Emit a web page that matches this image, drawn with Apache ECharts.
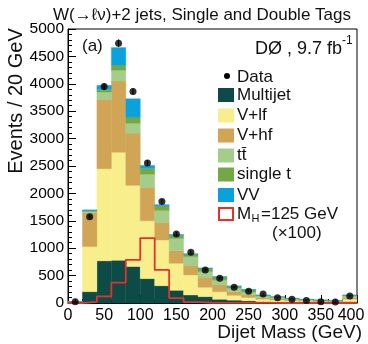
<!DOCTYPE html>
<html><head><meta charset="utf-8">
<script src="https://cdn.jsdelivr.net/npm/echarts@6/dist/echarts.min.js"></script>
<style>html,body{margin:0;padding:0;background:#fff}#c{width:368px;height:344px}</style>
</head><body><div id="c"></div>
<script>
// ---- data (Events / 20 GeV), bins 0-20, 20-40, ... 380-400 GeV ----
const binEdges = [0,20,40,60,80,100,120,140,160,180,200,220,240,260,280,300,320,340,360,380,400];
const multijet = [5,207,770,780,665,445,315,232,146,116,68,52,40,25,20,15,12,10,8,25];
const vlf      = [15,823,1682,1970,1482,1055,835,493,366,171,139,88,60,45,35,27,21,17,13,45];
const vhf      = [5,620,1268,1300,953,610,320,230,171,183,122,70,50,30,23,16,13,10,8,28];
const ttbar    = [1,22,129,198,180,240,220,223,164,103,92,60,50,28,22,17,13,11,8,29];
const singleTop= [1,10,49,95,115,110,85,57,43,57,54,35,40,14,12,8,7,5,4,14];
const diboson  = [1,18,73,318,332,50,20,15,8,10,6,6,8,4,4,3,2,2,1,5];
const dataCounts = [25,1575,3950,4740,3860,2556,1854,1260,928,604,452,287,215,165,97,68,45,25,18,130];
const higgsX100 = [0,20,120,372,787,1184,604,88,15,5,3,2,1,1,0,0,0,0,0,0];
const xTicks = [0,50,100,150,200,250,300,350,400];
const yTicks = [0,500,1000,1500,2000,2500,3000,3500,4000,4500,5000];

const FONT = "'Liberation Sans', Arial, Helvetica, sans-serif";
const comps = [
  {name:'Multijet', vals:multijet, color:'#0d4b46'},
  {name:'V+lf', vals:vlf, color:'#f8ee8c'},
  {name:'V+hf', vals:vhf, color:'#d0a556'},
  {name:'tt\u0304', vals:ttbar, color:'#a4cc8a'},
  {name:'single t', vals:singleTop, color:'#74a845'},
  {name:'VV', vals:diboson, color:'#0aa2dc'}
];
const base = new Array(20).fill(0);
const stackSeries = comps.map(c => {
  const d = c.vals.map((v,i) => {
    const item = [binEdges[i], binEdges[i+1], base[i], base[i]+v];
    base[i] += v;
    return item;
  });
  return {
    type:'custom', name:c.name, data:d, z:2,
    encode:{x:[0,1], y:[2,3]},
    renderItem:(params, api) => {
      const p0 = api.coord([api.value(0), api.value(3)]);
      const p1 = api.coord([api.value(1), api.value(2)]);
      return {type:'rect', shape:{x:p0[0], y:p0[1], width:p1[0]-p0[0], height:p1[1]-p0[1]},
        style:{fill:c.color, stroke:c.color, lineWidth:0.4}};
    }
  };
});
const centers = dataCounts.map((v,i) => [(binEdges[i]+binEdges[i+1])/2, v]);
const errData = dataCounts.map((v,i) => [(binEdges[i]+binEdges[i+1])/2, v - Math.sqrt(v), v + Math.sqrt(v)]);
const higgsStep = higgsX100.map((v,i) => [binEdges[i], v]).concat([[400, higgsX100[19]]]);

const chart = echarts.init(document.getElementById('c'), null, {renderer:'canvas'});
const axisTxt = {color:'#000', fontFamily:FONT};
chart.setOption({
  animation:false,
  grid:{left:68, top:29, width:289, height:274, show:true, borderColor:'#000', borderWidth:1, backgroundColor:'transparent'},
  xAxis:{type:'value', min:0, max:400, interval:50,
    axisLine:{lineStyle:{color:'#000', width:1}},
    axisTick:{inside:true, length:8, lineStyle:{color:'#000'}},
    minorTick:{show:true, splitNumber:5, length:4, lineStyle:{color:'#000'}},
    splitLine:{show:false},
    axisLabel:Object.assign({fontSize:16, margin:5,
      formatter:v => v===400 ? '{r|400}' : String(v),
      rich:{r:{fontSize:16, fontFamily:FONT, color:'#000', padding:[0,12,0,0]}}}, axisTxt)},
  yAxis:{type:'value', min:0, max:5000, interval:500,
    axisLine:{lineStyle:{color:'#000', width:1}},
    axisTick:{inside:true, length:8, lineStyle:{color:'#000'}},
    minorTick:{show:true, splitNumber:5, length:4, lineStyle:{color:'#000'}},
    splitLine:{show:false},
    axisLabel:Object.assign({fontSize:15.5, margin:4, formatter:v => String(v)}, axisTxt)},
  series: stackSeries.concat([
    {type:'line', name:'MH', data:higgsStep, step:'end', showSymbol:false, z:3,
      lineStyle:{color:'#e8302a', width:1.8}},
    {type:'custom', name:'err', data:errData, z:4, encode:{x:0, y:[1,2]},
      renderItem:(params, api) => {
        const a = api.coord([api.value(0), api.value(1)]);
        const b = api.coord([api.value(0), api.value(2)]);
        return {type:'line', shape:{x1:a[0], y1:a[1], x2:b[0], y2:b[1]}, style:{stroke:'#000', lineWidth:1}};
      }},
    {type:'scatter', name:'Data', data:centers, symbol:'circle', symbolSize:7, z:5,
      itemStyle:{color:'#000'}}
  ]),
  graphic:[
    {type:'text', x:202, y:15, style:{text:'W(\u2192\u2113\u03bd)+2 jets, Single and Double Tags', fontSize:17, fontFamily:FONT, fill:'#111', align:'center', verticalAlign:'middle'}},
    {type:'text', x:16, y:101, rotation:Math.PI/2, style:{text:'Events / 20 GeV', fontSize:20, fontFamily:FONT, fill:'#111', align:'center', verticalAlign:'middle'}},
    {type:'text', x:362, y:333, style:{text:'Dijet Mass (GeV)', fontSize:19, fontFamily:FONT, fill:'#111', align:'right', verticalAlign:'middle'}},
    {type:'text', x:82, y:46, style:{text:'(a)', fontSize:17, fontFamily:FONT, fill:'#111', align:'left', verticalAlign:'middle'}},
    {type:'text', x:342, y:49, style:{text:'D\u00d8 , 9.7 fb', fontSize:18, fontFamily:FONT, fill:'#111', align:'right', verticalAlign:'middle'}},
    {type:'text', x:342, y:41, style:{text:'-1', fontSize:12, fontFamily:FONT, fill:'#111', align:'left', verticalAlign:'middle'}},
    // legend
    {type:'circle', shape:{cx:227, cy:76, r:3}, style:{fill:'#000'}},
    {type:'text', x:237, y:77, style:{text:'Data', fontSize:17, fontFamily:FONT, fill:'#111', align:'left', verticalAlign:'middle'}}
  ].concat(comps.flatMap((c,k) => {
    const cy = [95,115.5,135.5,155.5,174.5,195][k];
    return [
      {type:'rect', shape:{x:218, y:cy-7, width:16, height:14}, style:{fill:c.color}},
      {type:'text', x:237, y:cy, style:{text:c.name, fontSize:17, fontFamily:FONT, fill:'#111', align:'left', verticalAlign:'middle'}}
    ];
  })).concat([
    {type:'rect', shape:{x:219, y:208, width:14, height:12}, style:{fill:'#fff', stroke:'#e8302a', lineWidth:2}},
    {type:'text', x:237, y:214.5, style:{text:'M', fontSize:17, fontFamily:FONT, fill:'#111', align:'left', verticalAlign:'middle'}},
    {type:'text', x:251.5, y:219, style:{text:'H', fontSize:11, fontFamily:FONT, fill:'#111', align:'left', verticalAlign:'middle'}},
    {type:'text', x:261, y:214.5, style:{text:'=125 GeV', fontSize:17, fontFamily:FONT, fill:'#111', align:'left', verticalAlign:'middle'}},
    {type:'text', x:272, y:233, style:{text:'(\u00d7100)', fontSize:17, fontFamily:FONT, fill:'#111', align:'left', verticalAlign:'middle'}}
  ])
});
</script></body></html>
